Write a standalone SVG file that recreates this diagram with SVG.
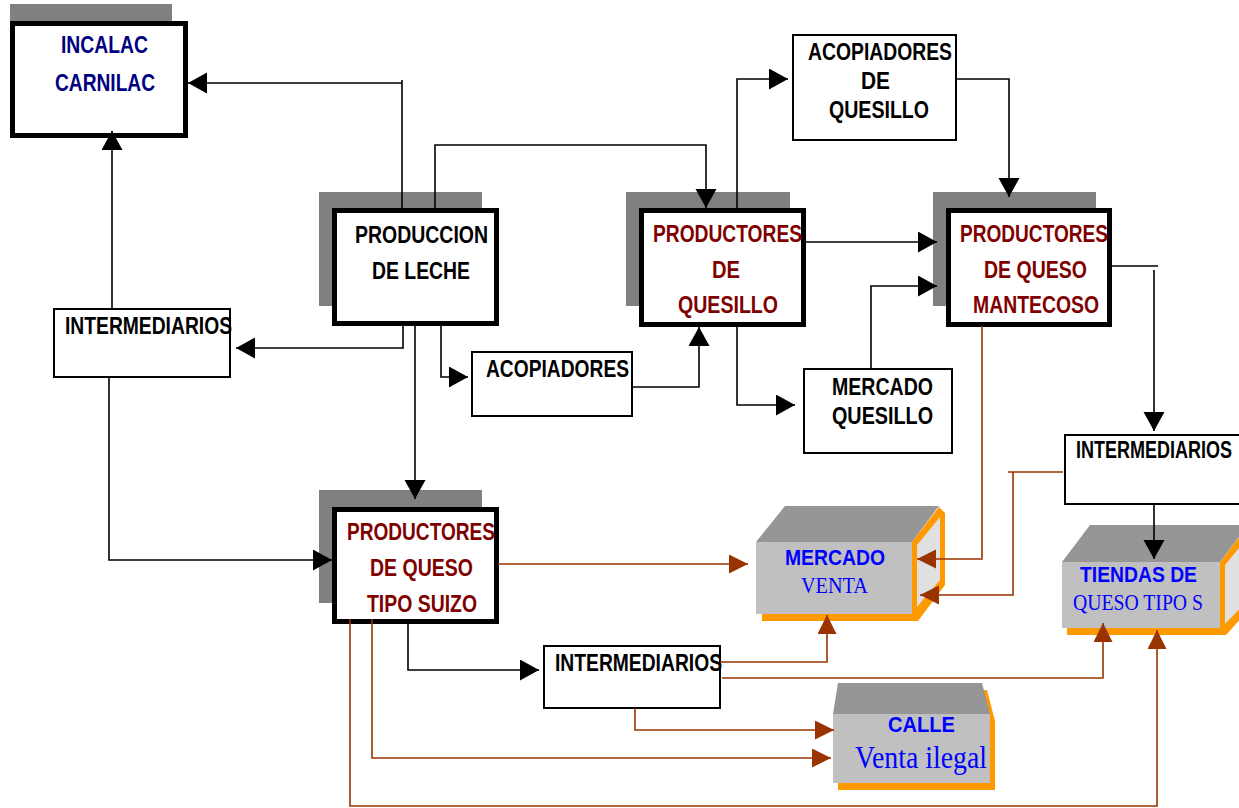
<svg xmlns="http://www.w3.org/2000/svg" width="1239" height="808" viewBox="0 0 1239 808">
<style>
.bg{fill:#ffffff}
.sh{fill:#808080}
.tk{fill:#ffffff;stroke:#000000;stroke-width:5}
.tn{fill:#ffffff;stroke:#000000;stroke-width:2}
.t{font-family:"Liberation Sans",Arial,sans-serif;font-weight:bold;font-size:24px;fill:#000000}
.dr{fill:#800000}
.nv{fill:#000080;font-size:23px}
.bl{font-family:"Liberation Sans",Arial,sans-serif;font-weight:bold;font-size:22px;fill:#0000ff}
.sf{font-family:"Liberation Serif","Times New Roman",serif;font-size:23px;fill:#0000ff}
.top{fill:#969696}
.front{fill:#c0c0c0}
.side{fill:#e0e0e0}
.or{fill:#ff9900}
.k{fill:none;stroke:#000000;stroke-width:1.6}
.b{fill:none;stroke:#993300;stroke-width:1.6}
</style>
<defs>
<marker id="ak" markerUnits="userSpaceOnUse" markerWidth="20" markerHeight="22" refX="19" refY="10.5" orient="auto" viewBox="0 0 20 22">
<path d="M0,0 L19,10.5 L0,21 z" fill="#000000"/>
</marker>
<marker id="ab" markerUnits="userSpaceOnUse" markerWidth="20" markerHeight="22" refX="19" refY="9.5" orient="auto" viewBox="0 0 20 22">
<path d="M0,0 L19,9.5 L0,19 z" fill="#993300"/>
</marker>
</defs>
<rect class="bg" x="0" y="0" width="1239" height="808"/>

<g id="incalac">
<rect class="sh" x="10" y="4" width="162" height="100"/>
<rect class="tk" x="12.5" y="23.5" width="173" height="112"/>
<text class="t nv" x="61" y="53" textLength="87" lengthAdjust="spacingAndGlyphs">INCALAC</text>
<text class="t nv" x="55" y="91" textLength="100" lengthAdjust="spacingAndGlyphs">CARNILAC</text>
</g>

<g id="produccion-leche">
<rect class="sh" x="319" y="192" width="163" height="114"/>
<rect class="tk" x="334.5" y="210.5" width="162" height="113"/>
<text class="t" x="355" y="243" textLength="133" lengthAdjust="spacingAndGlyphs">PRODUCCION</text>
<text class="t" x="372" y="279" textLength="98" lengthAdjust="spacingAndGlyphs">DE LECHE</text>
</g>

<g id="productores-quesillo">
<rect class="sh" x="626" y="192" width="164" height="114"/>
<rect class="tk" x="641.5" y="210.5" width="162" height="114"/>
<text class="t dr" x="653" y="242" textLength="149" lengthAdjust="spacingAndGlyphs">PRODUCTORES</text>
<text class="t dr" x="712" y="278" textLength="28" lengthAdjust="spacingAndGlyphs">DE</text>
<text class="t dr" x="678" y="313" textLength="100" lengthAdjust="spacingAndGlyphs">QUESILLO</text>
</g>

<g id="productores-mantecoso">
<rect class="sh" x="933" y="192" width="163" height="114"/>
<rect class="tk" x="948.5" y="210.5" width="161" height="114"/>
<text class="t dr" x="960" y="242" textLength="148" lengthAdjust="spacingAndGlyphs">PRODUCTORES</text>
<text class="t dr" x="984" y="278" textLength="103" lengthAdjust="spacingAndGlyphs">DE QUESO</text>
<text class="t dr" x="973" y="313" textLength="126" lengthAdjust="spacingAndGlyphs">MANTECOSO</text>
</g>

<g id="productores-suizo">
<rect class="sh" x="319" y="490" width="163" height="113"/>
<rect class="tk" x="334.5" y="509.5" width="162" height="112"/>
<text class="t dr" x="347" y="540" textLength="148" lengthAdjust="spacingAndGlyphs">PRODUCTORES</text>
<text class="t dr" x="370" y="576" textLength="103" lengthAdjust="spacingAndGlyphs">DE QUESO</text>
<text class="t dr" x="367" y="612" textLength="110" lengthAdjust="spacingAndGlyphs">TIPO SUIZO</text>
</g>

<g id="acopiadores-quesillo">
<rect class="tn" x="793" y="35" width="163" height="105"/>
<text class="t" x="808" y="60" textLength="144" lengthAdjust="spacingAndGlyphs">ACOPIADORES</text>
<text class="t" x="861" y="89" textLength="29" lengthAdjust="spacingAndGlyphs">DE</text>
<text class="t" x="829" y="118" textLength="100" lengthAdjust="spacingAndGlyphs">QUESILLO</text>
</g>

<g id="intermediarios-izq">
<rect class="tn" x="54" y="309" width="176" height="68"/>
<text class="t" x="65" y="334" textLength="167" lengthAdjust="spacingAndGlyphs">INTERMEDIARIOS</text>
</g>

<g id="acopiadores">
<rect class="tn" x="472" y="352" width="160" height="64"/>
<text class="t" x="486" y="377" textLength="143" lengthAdjust="spacingAndGlyphs">ACOPIADORES</text>
</g>

<g id="mercado-quesillo">
<rect class="tn" x="804" y="369" width="148" height="84"/>
<text class="t" x="832" y="395" textLength="101" lengthAdjust="spacingAndGlyphs">MERCADO</text>
<text class="t" x="832" y="424" textLength="101" lengthAdjust="spacingAndGlyphs">QUESILLO</text>
</g>

<g id="intermediarios-der">
<rect class="tn" x="1065" y="435" width="185" height="69"/>
<text class="t" transform="translate(1076,458) scale(0.75,1)" x="0" y="0">INTERMEDIARIOS</text>
</g>

<g id="intermediarios-abajo">
<rect class="tn" x="544" y="646" width="176" height="62"/>
<text class="t" x="555" y="671" textLength="167" lengthAdjust="spacingAndGlyphs">INTERMEDIARIOS</text>
</g>

<g id="mercado-venta">
<polygon class="or" points="912,542 939,507 945,513 945,585 918,621 762,621 762,614 912,614"/>
<polygon class="top" points="756,542 785,506 939,506 912,542"/>
<rect class="front" x="756" y="542" width="156" height="72"/>
<polygon class="side" points="917,545 940,517 940,580 917,607"/>
<text class="bl" x="785" y="565" textLength="100" lengthAdjust="spacingAndGlyphs">MERCADO</text>
<text class="sf" x="801" y="593" textLength="67" lengthAdjust="spacingAndGlyphs">VENTA</text>
</g>

<g id="tiendas-queso">
<polygon class="or" points="1220,562 1248,526 1254,532 1254,604 1226,635 1067,635 1067,628 1220,628"/>
<polygon class="top" points="1062,562 1090,525 1248,525 1220,562"/>
<rect class="front" x="1062" y="562" width="158" height="66"/>
<polygon class="side" points="1225,565 1248,537 1248,600 1225,624"/>
<text class="bl" x="1080" y="582" textLength="117" lengthAdjust="spacingAndGlyphs">TIENDAS DE</text>
<text class="sf" x="1073" y="610" textLength="130" lengthAdjust="spacingAndGlyphs">QUESO TIPO S</text>
</g>

<g id="calle">
<polygon class="or" points="838,721 843,690 987,690 995,721 995,790 838,790"/>
<polygon class="top" points="833,714 838,683 982,683 990,714"/>
<rect class="front" x="833" y="714" width="157" height="69"/>
<text class="bl" x="888" y="732" textLength="67" lengthAdjust="spacingAndGlyphs">CALLE</text>
<text class="sf" x="855" y="768" style="font-size:31px" textLength="132" lengthAdjust="spacingAndGlyphs">Venta ilegal</text>
</g>

<g id="connectors">
<path class="k" d="M402,208 V80"/>
<path class="k" d="M402,83 H188" marker-end="url(#ak)"/>
<path class="k" d="M435,208 V145 H706 V208" marker-end="url(#ak)"/>
<path class="k" d="M737,208 V79 H788" marker-end="url(#ak)"/>
<path class="k" d="M956,79 H1009 V197" marker-end="url(#ak)"/>
<path class="k" d="M806,242 H937" marker-end="url(#ak)"/>
<path class="k" d="M871,369 V286 H937" marker-end="url(#ak)"/>
<path class="k" d="M632,387 H699 V327" marker-end="url(#ak)"/>
<path class="k" d="M737,326 V405 H795" marker-end="url(#ak)"/>
<path class="k" d="M441,326 V377 H468" marker-end="url(#ak)"/>
<path class="k" d="M403,326 V348 H236" marker-end="url(#ak)"/>
<path class="k" d="M415,326 V499" marker-end="url(#ak)"/>
<path class="k" d="M112,309 V131" marker-end="url(#ak)"/>
<path class="k" d="M109,377 V560 H332" marker-end="url(#ak)"/>
<path class="k" d="M408,624 V670 H539" marker-end="url(#ak)"/>
<path class="k" d="M1112,266 H1158"/>
<path class="k" d="M1154,270 V431" marker-end="url(#ak)"/>
<path class="k" d="M1154,504 V559" marker-end="url(#ak)"/>

<path class="b" d="M498,564 H748" marker-end="url(#ab)"/>
<path class="b" d="M982,326 V559 H917" marker-end="url(#ab)"/>
<path class="b" d="M1063,472 H1008"/>
<path class="b" d="M1013,472 V595 H920" marker-end="url(#ab)"/>
<path class="b" d="M720,662 H827 V615" marker-end="url(#ab)"/>
<path class="b" d="M722,678 H1103 V623" marker-end="url(#ab)"/>
<path class="b" d="M635,708 V730 H834" marker-end="url(#ab)"/>
<path class="b" d="M372,619 V758 H831" marker-end="url(#ab)"/>
<path class="b" d="M350,619 V806 H1157 V630" marker-end="url(#ab)"/>
</g>
</svg>
